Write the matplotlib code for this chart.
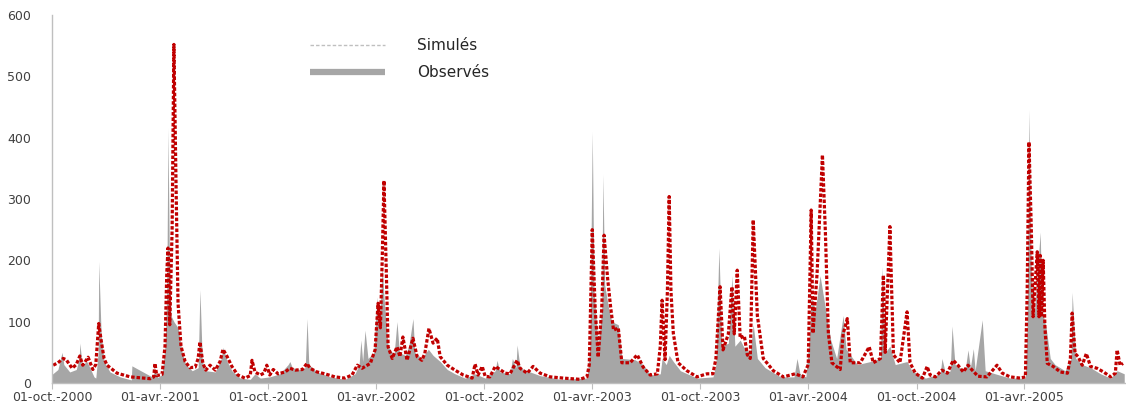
import numpy as np
import pandas as pd
import matplotlib
matplotlib.use('Agg')
import matplotlib.pyplot as plt
from matplotlib.lines import Line2D

# Débits journaliers (m3/s) - jours depuis le 01-oct.-2000
START = pd.Timestamp('2000-10-01')

sim_days = [2, 10, 19, 24, 34, 41, 47, 52, 61, 69, 74, 79, 83, 88, 93, 110, 132, 166, 172, 174,
            177, 186, 191, 194, 196, 199, 203, 206, 210, 213, 218, 225, 233, 242, 247, 250, 255,
            260, 267, 276, 284, 289, 296, 304, 314, 326, 335, 338, 343, 352,
            358, 363, 368, 374, 382, 394, 402, 411, 423, 431, 436, 448, 461, 478, 495, 507, 516,
            524, 538, 546, 551, 555, 558, 561, 565, 568, 575, 583, 588, 593, 600, 610, 617, 625,
            630, 637, 644, 651, 656, 668, 681, 695, 710, 715, 720, 727, 732, 740, 749, 757, 766,
            774, 786, 791, 803, 813, 825, 842, 864, 892, 904, 908, 913, 918, 923, 929, 933, 939,
            944, 949, 957, 963, 977, 989, 999, 1011, 1023, 1028, 1031, 1036, 1040, 1043, 1046,
            1050, 1058, 1073, 1090, 1107, 1117, 1122, 1129, 1134, 1143, 1149, 1153, 1158, 1163,
            1170, 1175, 1180, 1185, 1192, 1202, 1219, 1236, 1256, 1269, 1278, 1283, 1286, 1293,
            1302, 1307, 1312, 1318, 1332, 1337, 1344, 1349, 1366, 1381, 1388, 1400, 1405, 1408,
            1416, 1422, 1433, 1445, 1450, 1459, 1471, 1479, 1484, 1493, 1504, 1513, 1523, 1531,
            1540, 1548, 1555, 1565, 1580, 1597, 1606, 1619, 1636, 1645, 1648, 1651, 1655, 1658,
            1665, 1668, 1670, 1672, 1675, 1678, 1682, 1692, 1704, 1716, 1721, 1724, 1729, 1734,
            1741, 1748, 1755, 1766, 1777, 1789, 1797, 1800, 1805, 1810]
sim_vals = [29, 33, 40, 38, 24, 30, 44, 29, 42, 22, 30, 97, 70, 40, 29, 16, 10, 7, 10, 32,
            12, 14, 60, 180, 220, 95, 250, 552, 300, 130, 60, 35, 25, 26, 40, 67, 32,
            21, 29, 21, 35, 55, 43, 27, 13, 8, 12, 37, 18, 13,
            16, 29, 13, 22, 15, 18, 24, 21, 22, 32, 24, 18, 15, 10, 8, 13, 29,
            24, 32, 54, 130, 90, 200, 330, 180, 59, 40, 59, 43, 75, 37, 73, 43, 37,
            48, 89, 65, 73, 43, 29, 21, 13, 8, 31, 13, 27, 11, 10, 27, 22, 16,
            15, 37, 24, 16, 27, 16, 10, 8, 6, 10, 30, 250, 120, 42, 120, 241, 170,
            124, 86, 90, 33, 33, 46, 26, 13, 15, 60, 135, 38, 150, 304, 150,
            81, 33, 20, 10, 15, 15, 40, 157, 54, 80, 157, 80, 184, 73,
            77, 46, 40, 266, 110, 40, 20, 10, 15, 10, 30, 282, 81, 180,
            372, 245, 81, 33, 22, 80, 105, 33, 33, 59, 33, 40, 176, 50,
            255, 46, 33, 116, 33, 16, 8, 27, 13, 10, 21, 16, 37, 29,
            18, 29, 21, 11, 10, 29, 16, 10, 8, 10, 150, 393, 250, 108,
            214, 108, 208, 108, 200, 90, 32, 27, 18, 16, 40, 114, 48, 43,
            29, 48, 27, 24, 18, 10, 16, 54, 29, 32]

obs_days = [0, 10, 17, 20, 30, 41, 46, 47, 51, 59, 64, 71, 74, 78, 79, 83, 88, 98, 115, 134,
            135, 169, 174, 179, 186, 191, 194, 196, 198, 201, 206, 213, 220, 226, 237, 247, 250,
            254, 260, 276, 286, 289, 296, 304, 318, 335, 343, 352, 368, 385, 399, 402, 406, 419,
            428, 431, 434, 448, 470, 495, 512, 519, 522, 525, 529, 534, 544, 549, 553, 558, 561,
            568, 578, 583, 587, 597, 603, 610, 613, 625, 636, 644, 656, 668, 681, 698, 715, 732,
            749, 752, 757, 774, 778, 784, 786, 791, 808, 825, 859, 904, 909, 913, 916, 923, 929,
            931, 934, 941, 946, 957, 963, 985, 999, 1011, 1028, 1031, 1038, 1043, 1050, 1062,
            1090, 1117, 1122, 1127, 1132, 1143, 1149, 1154, 1163, 1171, 1180, 1185, 1192, 1205,
            1231, 1254, 1259, 1264, 1274, 1280, 1283, 1290, 1298, 1309, 1316, 1326, 1337, 1342,
            1361, 1383, 1400, 1403, 1408, 1416, 1425, 1445, 1453, 1476, 1501, 1504, 1510, 1518,
            1521, 1526, 1543, 1548, 1552, 1557, 1560, 1572, 1577, 1594, 1619, 1645, 1648, 1651,
            1655, 1660, 1670, 1673, 1680, 1687, 1695, 1712, 1722, 1724, 1730, 1741, 1755, 1772,
            1789, 1800, 1812]
obs_vals = [14, 22, 50, 30, 18, 22, 40, 65, 30, 35, 25, 10, 8, 50, 198, 80, 35, 18, 10, 5,
            28, 10, 20, 9, 14, 60, 150, 415, 230, 110, 100, 90, 50, 30, 20, 25, 152,
            35, 20, 18, 40, 58, 35, 20, 8, 6, 15, 8, 10, 15, 30, 35, 25, 22,
            25, 105, 30, 18, 10, 6, 15, 30, 70, 35, 86, 40, 50, 140, 90, 190, 140,
            60, 45, 100, 50, 45, 60, 105, 50, 40, 55, 45, 35, 22, 15, 8, 15, 8,
            20, 37, 18, 15, 40, 25, 62, 25, 18, 12, 6, 8, 60, 410, 150, 60, 120,
            340, 160, 120, 100, 95, 40, 38, 30, 13, 15, 40, 30, 45, 35, 20,
            8, 10, 30, 220, 60, 65, 175, 60, 70, 55, 50, 95, 40, 25,
            10, 10, 40, 15, 10, 80, 140, 120, 175, 110, 70, 40, 110, 55,
            30, 35, 40, 190, 50, 60, 30, 35, 20, 8, 15, 40, 15, 20,
            93, 30, 20, 54, 25, 56, 20, 103, 20, 15, 8, 8, 100, 445,
            180, 110, 246, 120, 90, 40, 30, 20, 40, 148, 40, 30, 25, 15,
            8, 20, 15]

tick_dates = ['2000-10-01', '2001-04-01', '2001-10-01', '2002-04-01', '2002-10-01',
              '2003-04-01', '2003-10-01', '2004-04-01', '2004-10-01', '2005-04-01']
tick_labels = ['01-oct.-2000', '01-avr.-2001', '01-oct.-2001', '01-avr.-2002', '01-oct.-2002',
               '01-avr.-2003', '01-oct.-2003', '01-avr.-2004', '01-oct.-2004', '01-avr.-2005']

sim_dates = START + pd.to_timedelta(sim_days, unit='D')
obs_dates = START + pd.to_timedelta(obs_days, unit='D')

fig = plt.figure(figsize=(11.26, 4.04), dpi=100)
ax = fig.add_axes([52 / 1126, 21 / 404, 1 - 52 / 1126, 368 / 404])

ax.fill_between(obs_dates, obs_vals, 0, color='#A6A6A6', lw=0)
# Simulés : pointillés rouge foncé
ax.plot(sim_dates, sim_vals, color='#C00000', lw=2.3, linestyle=(0, (1.1, 0.6)),
        dash_capstyle='butt', solid_joinstyle='round')

ax.set_xlim(START, START + pd.Timedelta(days=1815))
ax.set_ylim(0, 600)
ax.set_yticks(range(0, 601, 100))
ax.set_xticks(pd.to_datetime(tick_dates))
ax.set_xticklabels(tick_labels)

for s in ['top', 'right']:
    ax.spines[s].set_visible(False)
for s in ['left', 'bottom']:
    ax.spines[s].set_color('#BFBFBF')
    ax.spines[s].set_linewidth(1.0)

ax.tick_params(axis='y', length=0, pad=15, labelsize=9, labelcolor='#404040')
ax.tick_params(axis='x', length=4, color='#BFBFBF', pad=2, labelsize=9, labelcolor='#404040')

handles = [Line2D([], [], color='#BFBFBF', lw=1.0, linestyle=(0, (2.5, 1.5))),
           Line2D([], [], color='#A6A6A6', lw=4.5, solid_capstyle='butt')]
ax.legend(handles, ['Simulés', 'Observés'], loc='upper left',
          bbox_to_anchor=(310 / 1126, 1 - 38 / 404), bbox_transform=fig.transFigure,
          frameon=False, fontsize=11, handlelength=4.9, handletextpad=2.1,
          labelspacing=0.8, borderpad=0, borderaxespad=0, labelcolor='#262626')

fig.savefig('out.png', dpi=100, facecolor='white')
